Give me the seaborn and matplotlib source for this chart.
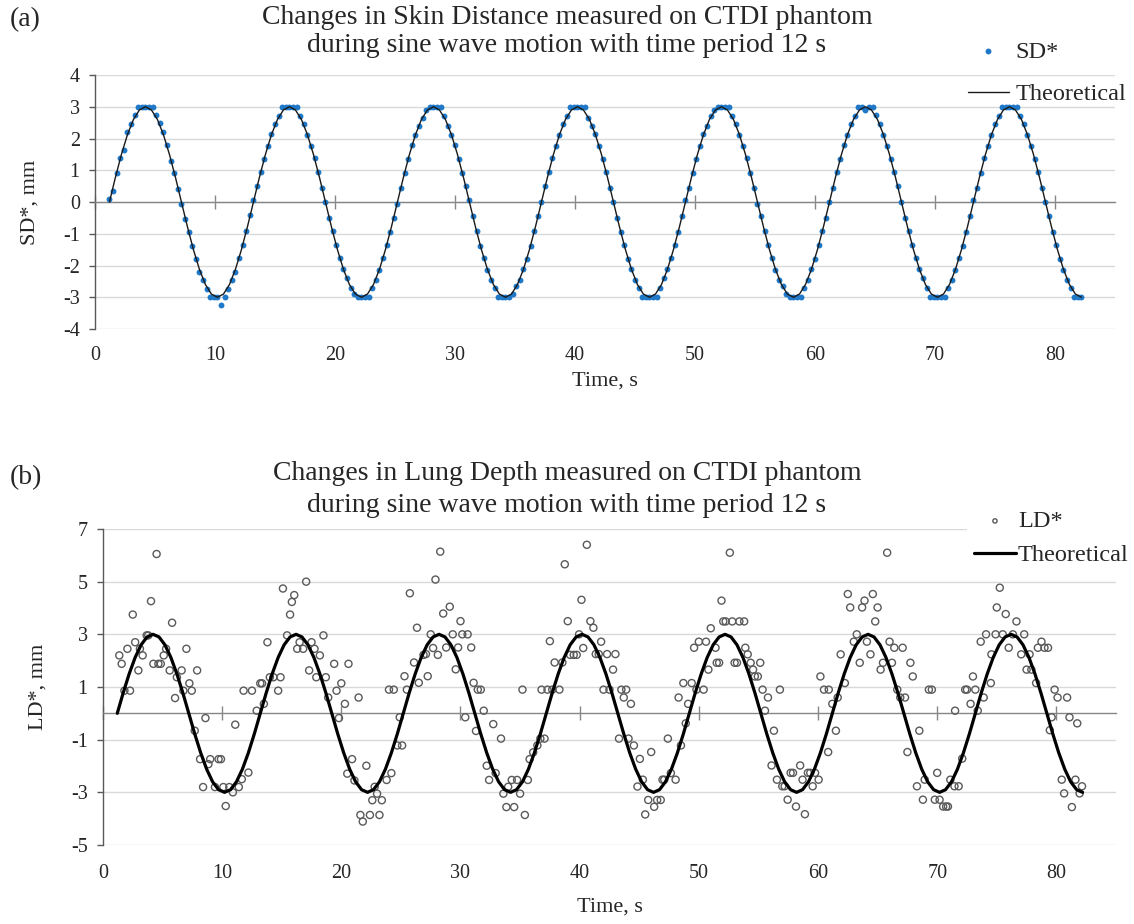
# -*- coding: utf-8 -*-

# Import libraries ======================================================================

import numpy as np
import pandas as pd
import matplotlib
matplotlib.use("Agg")
import matplotlib.pyplot as plt
import seaborn as sns

# Data ==================================================================================

x_ticks = [0, 10, 20, 30, 40, 50, 60, 70, 80]
sd_ticks = [-4, -3, -2, -1, 0, 1, 2, 3, 4]
ld_ticks = [-5, -3, -1, 1, 3, 5, 7]

# Skin distance (SD*), sampled every 0.3 s from 1.2 s
sd_start, sd_step = 1.2, 0.3
sd_mm = [
    0.1, 0.35, 0.9, 1.4, 1.65, 2.2, 2.45, 2.75, 3.0, 3.0,
    3.0, 3.0, 3.0, 2.75, 2.5, 2.2, 1.8, 1.3, 0.9, 0.4,
    -0.05, -0.55, -0.95, -1.4, -1.8, -2.2, -2.45, -2.75, -3.0, -3.0,
    -3.0, -3.25, -3.0, -2.75, -2.45, -2.2, -1.75, -1.35, -0.9, -0.4,
    0.05, 0.5, 0.95, 1.35, 1.75, 2.15, 2.45, 2.7, 3.0, 3.0,
    3.0, 3.0, 3.0, 2.7, 2.45, 2.1, 1.75, 1.4, 0.95, 0.45,
    0.0, -0.5, -0.9, -1.35, -1.75, -2.1, -2.4, -2.7, -2.9, -3.0,
    -3.0, -3.0, -3.0, -2.7, -2.45, -2.15, -1.75, -1.35, -0.95, -0.5,
    -0.05, 0.45, 0.9, 1.35, 1.8, 2.1, 2.4, 2.65, 2.9, 3.0,
    3.0, 3.0, 3.0, 2.7, 2.4, 2.1, 1.8, 1.35, 0.9, 0.5,
    0.05, -0.45, -0.9, -1.4, -1.75, -2.15, -2.45, -2.7, -3.0, -3.0,
    -3.0, -3.0, -2.9, -2.65, -2.45, -2.1, -1.8, -1.4, -0.9, -0.45,
    0.0, 0.5, 0.95, 1.4, 1.75, 2.1, 2.45, 2.7, 3.0, 3.0,
    3.0, 3.0, 3.0, 2.65, 2.4, 2.15, 1.75, 1.35, 0.95, 0.45,
    0.0, -0.5, -0.95, -1.35, -1.8, -2.1, -2.45, -2.7, -3.0, -3.0,
    -3.0, -3.0, -3.0, -2.7, -2.4, -2.1, -1.75, -1.35, -0.95, -0.45,
    0.05, 0.45, 0.9, 1.35, 1.75, 2.15, 2.4, 2.7, 2.9, 3.0,
    3.0, 3.0, 3.0, 2.7, 2.45, 2.1, 1.75, 1.4, 0.9, 0.45,
    -0.05, -0.45, -0.9, -1.35, -1.75, -2.15, -2.45, -2.65, -2.9, -3.0,
    -3.0, -3.0, -3.0, -2.7, -2.45, -2.1, -1.8, -1.35, -0.9, -0.5,
    0.0, 0.45, 0.95, 1.35, 1.8, 2.1, 2.45, 2.7, 3.0, 3.0,
    2.9, 3.0, 3.0, 2.75, 2.45, 2.1, 1.75, 1.35, 0.95, 0.5,
    0.0, -0.5, -0.9, -1.35, -1.75, -2.1, -2.4, -2.7, -3.0, -3.0,
    -3.0, -3.0, -3.0, -2.7, -2.45, -2.15, -1.75, -1.4, -0.95, -0.45,
    0.05, 0.45, 0.9, 1.4, 1.75, 2.1, 2.45, 2.7, 3.0, 3.0,
    3.0, 3.0, 3.0, 2.7, 2.45, 2.1, 1.75, 1.35, 0.95, 0.45,
    0.0, -0.45, -0.95, -1.35, -1.8, -2.15, -2.45, -2.7, -3.0, -3.0,
    -3.0,
]

# Theoretical motion, every 0.5 s from 1.2 s
th_start, th_step = 1.2, 0.5
theory_mm = [
    0.0, 0.78, 1.5, 2.12, 2.6, 2.9, 3.0, 2.9, 2.6, 2.12, 1.5, 0.78,
    0.0, -0.78, -1.5, -2.12, -2.6, -2.9, -3.0, -2.9, -2.6, -2.12, -1.5, -0.78,
    0.0, 0.78, 1.5, 2.12, 2.6, 2.9, 3.0, 2.9, 2.6, 2.12, 1.5, 0.78,
    0.0, -0.78, -1.5, -2.12, -2.6, -2.9, -3.0, -2.9, -2.6, -2.12, -1.5, -0.78,
    0.0, 0.78, 1.5, 2.12, 2.6, 2.9, 3.0, 2.9, 2.6, 2.12, 1.5, 0.78,
    0.0, -0.78, -1.5, -2.12, -2.6, -2.9, -3.0, -2.9, -2.6, -2.12, -1.5, -0.78,
    0.0, 0.78, 1.5, 2.12, 2.6, 2.9, 3.0, 2.9, 2.6, 2.12, 1.5, 0.78,
    0.0, -0.78, -1.5, -2.12, -2.6, -2.9, -3.0, -2.9, -2.6, -2.12, -1.5, -0.78,
    0.0, 0.78, 1.5, 2.12, 2.6, 2.9, 3.0, 2.9, 2.6, 2.12, 1.5, 0.78,
    0.0, -0.78, -1.5, -2.12, -2.6, -2.9, -3.0, -2.9, -2.6, -2.12, -1.5, -0.78,
    0.0, 0.78, 1.5, 2.12, 2.6, 2.9, 3.0, 2.9, 2.6, 2.12, 1.5, 0.78,
    0.0, -0.78, -1.5, -2.12, -2.6, -2.9, -3.0, -2.9, -2.6, -2.12, -1.5, -0.78,
    0.0, 0.78, 1.5, 2.12, 2.6, 2.9, 3.0, 2.9, 2.6, 2.12, 1.5, 0.78,
    0.0, -0.78, -1.5, -2.12, -2.6, -2.9, -3.0,
]

# Lung depth (LD*) points, time and value
ld_time = [
    1.37, 1.57, 1.8, 2.05, 2.27, 2.5, 2.7, 2.97, 3.1, 3.33,
    3.67, 3.8, 4.03, 4.23, 4.5, 4.65, 4.85, 5.1, 5.3, 5.6,
    5.8, 6.05, 6.2, 6.6, 6.75, 7.0, 7.25, 7.45, 7.7, 7.9,
    8.15, 8.4, 8.6, 8.85, 9.0, 9.4, 9.7, 9.9, 10.1, 10.3,
    10.6, 10.9, 11.1, 11.4, 11.65, 11.8, 12.2, 12.5, 12.9, 13.2,
    13.35, 13.5, 13.8, 14.0, 14.3, 14.7, 14.9, 15.1, 15.45, 15.7,
    15.85, 16.05, 16.3, 16.5, 16.8, 17.05, 17.3, 17.5, 17.75, 17.9,
    18.2, 18.5, 18.7, 18.9, 19.4, 19.6, 19.8, 20.0, 20.3, 20.5,
    20.6,
    20.9, 21.1, 21.45, 21.6, 21.8, 22.1, 22.4, 22.6, 22.8, 23.0,
    23.2, 23.4, 23.8, 24.0, 24.2, 24.4, 24.7, 24.9, 25.1, 25.3,
    25.5, 25.75, 26.1, 26.35, 26.5, 26.9, 27.1, 27.25, 27.5, 27.7,
    27.9, 28.1, 28.3, 28.55, 28.8, 29.1, 29.35, 29.6, 29.8, 30.0,
    30.15, 30.4, 30.6, 30.9, 31.1, 31.3, 31.45, 31.7, 31.95, 32.2,
    32.4, 32.75, 32.95, 33.4, 33.6, 33.85, 34.0, 34.3, 34.5, 34.75,
    35.0, 35.2, 35.4, 35.65, 35.8, 36.1, 36.45, 36.7, 36.8, 37.05,
    37.3, 37.5, 37.7, 37.9, 38.3, 38.55, 38.75, 39.0, 39.2, 39.5,
    39.75, 39.95, 40.15, 40.3, 40.6, 40.9, 41.15, 41.35, 41.6,
    41.8, 42.0, 42.3, 42.5, 42.8, 43.0, 43.3, 43.5, 43.7, 43.9,
    44.1, 44.3, 44.55, 44.85, 45.05, 45.3, 45.5, 45.75, 46.0, 46.25,
    46.5, 46.8, 46.95, 47.1, 47.4, 47.65, 48.05, 48.3, 48.5, 48.7,
    48.9, 49.1, 49.4, 49.6, 49.8, 50.0, 50.4, 50.6, 50.8, 51.0,
    51.4, 51.5, 51.7, 51.9, 52.05, 52.25, 52.6, 52.8, 53.0, 53.2,
    53.4, 53.8, 53.9, 54.1, 54.35, 54.55, 54.7, 54.95, 55.15, 55.35,
    55.55, 55.8, 56.1, 56.3, 56.55, 56.8, 57.0, 57.2, 57.45, 57.7,
    57.9, 58.15, 58.5, 58.7, 58.9, 59.15, 59.35, 59.55, 59.75, 60.05,
    60.2, 60.5, 60.85, 60.9, 61.2, 61.5, 61.65, 61.9, 62.25, 62.5,
    62.7,
    63.0, 63.25, 63.5, 63.7, 63.9, 64.1, 64.4, 64.6, 64.8, 65.0,
    65.25, 65.45, 65.8, 66.0, 66.2, 66.4, 66.65, 66.9, 67.1, 67.3,
    67.5, 67.75, 67.95, 68.3, 68.5, 68.8, 68.95, 69.3, 69.55, 69.8,
    70.0, 70.2, 70.5, 70.75, 70.9, 71.1, 71.45, 71.5, 71.8, 72.1,
    72.35, 72.5, 72.8, 73.0, 73.2, 73.4, 73.65, 73.9, 74.1, 74.5,
    74.55, 74.9, 75.0, 75.25, 75.5, 75.75, 76.0, 76.35, 76.65, 77.05,
    77.3, 77.5, 77.75, 77.9, 78.3, 78.45, 78.75, 79.0, 79.3, 79.45,
    79.6, 79.85, 80.1, 80.45, 80.65, 80.9, 81.1, 81.3, 81.6, 81.75,
    81.95, 82.15,
]
ld_mm = [
    2.2, 1.88, 0.86, 2.45, 0.86, 3.75, 2.7, 1.63, 2.45, 2.2,
    2.96, 2.96, 4.26, 1.88, 6.05, 1.88, 1.88, 2.2, 2.45, 1.63,
    3.44, 0.58, 1.37, 1.63, 0.86, 2.45, 1.14, 0.86, -0.66, 1.63,
    -1.74, -2.8, -0.18, -1.93, -1.74, -2.8, -1.74, -1.74, -2.8, -3.52,
    -2.8, -3.0, -0.43, -2.8, -2.5, 0.86, -2.25, 0.86, 0.1, 1.14,
    1.14, 0.36, 2.7, 1.37, 1.37, 0.86, 1.37, 4.74, 2.96, 3.75,
    4.23, 4.49, 2.45, 2.7, 2.45, 5.0, 1.63, 2.7, 2.45, 1.37,
    2.2, 2.96, 1.37, 0.6, 1.88, 0.86, -0.18, 1.14, 0.36, -2.29,
    1.88,
    -1.74, -2.55, 0.6, -3.86, -4.11, -1.99, -3.86, -3.3, -2.79, -3.05,
    -3.86, -3.3, -2.53, 0.9, -2.27, 0.9, -1.22, -0.15, -1.22, 1.41,
    0.9, 4.56, 1.93, 3.25, 1.16, 2.22, 2.25, 1.41, 3.0, 2.48,
    5.08, 2.22, 6.14, 3.79, 2.5, 4.05, 3.0, 1.67, 2.5, 3.5,
    3.0, -0.15, 3.0, 2.5, 1.16, -0.67, 0.9, 0.9, 0.1, -1.99,
    -2.53, -0.41, -2.27, -0.96, -3.05, -3.56, -2.79, -2.53, -3.56, -2.53,
    -3.05, 0.9, -3.86, -2.53, -1.74, -1.48, -1.22, -0.96, 0.9, -0.96,
    0.9, 2.74, 0.9, 1.93, 0.9, 1.93, 5.66, 3.5, 2.22, 2.22,
    2.22, 3.0, 4.31, 2.48, 6.4, 3.5, 3.25, 2.25, 2.25,
    2.72, 0.9, 2.25, 0.9, 1.66, 2.25, -0.96, 0.9, 0.6, 0.9,
    -0.96, 0.36, -1.22, -2.78, -1.73, -2.52, -3.84, -3.29, -1.47, -3.55,
    -3.29, -3.29, -2.52, -2.52, -0.96, -2.27, -2.52, 0.6, -1.22, 1.15,
    -0.38, 0.36, 1.15, 2.49, 0.9, 2.72, 0.9, 2.72, 1.66, 3.23,
    2.49, 1.92, 1.92, 4.28, 3.49, 3.49, 6.1, 3.49, 1.92, 1.92,
    3.49, 3.49, 2.49, 2.24, 1.92, 1.66, 1.4, 1.4, 1.92, 0.9,
    0.1, 0.6, -1.98, -0.66, -2.52, 0.9, -2.77, -2.77, -3.28, -2.26,
    -2.26, -3.54, -1.98, -2.52, -3.83, -2.26, -2.26, -2.77, -2.26, -2.52,
    1.4, 0.9, -1.47, 0.9, 0.36, -0.66, 0.6, 2.24, 1.15, 4.53,
    4.02,
    2.72, 3.0, 1.92, 4.02, 4.28, 2.72, 2.24, 4.53, 3.49, 4.02,
    1.66, 1.92, 6.1, 2.72, 1.92, 2.49, 0.9, 0.6, 2.49, 0.6,
    -1.47, 1.92, 1.4, -2.77, -0.66, -3.28, -2.52, 0.9, 0.9, -3.28,
    -2.26, -3.28, -3.54, -3.54, -3.54, -2.52, -2.77, 0.1, -2.77, -1.72,
    0.9, 0.9, 0.36, 1.4, 0.9, 0.1, 2.72, 0.6, 3.0, 1.15,
    2.24, 3.0, 4.02, 4.77, 3.0, 3.77, 2.49, 3.0, 3.49, 2.24,
    3.0, 1.66, 2.24, 1.66, 1.15, 2.49, 2.72, 2.49, 2.49, -0.64,
    -0.15, 0.9, 0.6, -2.52, -3.04, 0.6, -0.15, -3.56, -2.52, -0.38,
    -3.04, -2.77,
]

# Build the tables ======================================================================

sd_df = pd.DataFrame({"Time": sd_start + sd_step * np.arange(len(sd_mm)), "SD": sd_mm})
th_df = pd.DataFrame({"Time": th_start + th_step * np.arange(len(theory_mm)), "TH": theory_mm})
ld_df = pd.DataFrame({"Time": ld_time, "LD": ld_mm})

# Style ================================================================================

sns.set_theme(style="white")
plt.rcParams["font.family"] = ["Liberation Serif", "DejaVu Serif"]
plt.rcParams["axes.unicode_minus"] = False


def style_axes(ax, yticks, ylabel, ylabelpad, xpad, xlabelpad):
    ''' Excel look: light grid, x axis crossing at zero, tick labels at the bottom. '''
    ax.set_xlim(0, 85)
    ax.set_ylim(yticks[0], yticks[-1])
    ax.set_xticks(x_ticks)
    ax.set_yticks(yticks)
    ax.grid(axis="y", color="#D9D9D9", lw=1)
    ax.grid(axis="x", visible=False)
    ax.set_axisbelow(True)
    ax.spines["top"].set_visible(False)
    ax.spines["right"].set_visible(False)
    ax.spines["left"].set_color("#595959")
    ax.spines["left"].set_linewidth(1)
    ax.spines["bottom"].set_position(("data", 0))
    ax.spines["bottom"].set_color("#868686")
    ax.spines["bottom"].set_linewidth(1)
    ax.tick_params(axis="x", direction="inout", length=10, width=1,
                   color="#868686", labelbottom=False, bottom=True)
    ax.tick_params(axis="y", direction="out", length=4, width=1,
                   color="#595959", labelsize=14.5, pad=7, left=True)
    ax.set_ylabel(ylabel, fontsize=16, labelpad=ylabelpad)
    ax.set_xlabel("")

    sec = ax.secondary_xaxis(0)
    sec.set_xticks(x_ticks)
    sec.tick_params(length=0, labelsize=14.5, pad=xpad)
    for sp in sec.spines.values():
        sp.set_visible(False)
    sec.set_xlabel("Time, s", fontsize=16, labelpad=xlabelpad)


fig = plt.figure(figsize=(11.34, 9.24), dpi=100)

# Panel (a) ==============================================================================

ax1 = fig.add_axes([0.0838, 0.6439, 0.8995, 0.2749])
sns.scatterplot(data=sd_df, x="Time", y="SD", ax=ax1, color="#1F78C8",
                s=18, linewidth=0, label="SD*", zorder=3)
sns.lineplot(data=th_df, x="Time", y="TH", ax=ax1, color="#1a1a1a",
             lw=1.0, label="Theoretical", zorder=4)
style_axes(ax1, sd_ticks, "SD*, mm", ylabelpad=17, xpad=12, xlabelpad=5)
ax1.legend(loc="upper left", bbox_to_anchor=(958 / 1134, 1 - 31 / 924),
           bbox_transform=fig.transFigure, frameon=False, fontsize=17.5,
           handlelength=1.7, handletextpad=0.25, labelspacing=0.85, borderaxespad=0)

fig.text(0.5, 1 - 18 / 924, "Changes in Skin Distance measured on CTDI phantom",
         ha="center", va="center", fontsize=20)
fig.text(0.5, 1 - 45 / 924, "during sine wave motion with time period 12 s",
         ha="center", va="center", fontsize=20)
fig.text(10 / 1134, 1 - 20 / 924, "(a)", ha="left", va="center", fontsize=20)

# Panel (b) ==============================================================================

ax2 = fig.add_axes([0.0908, 0.0855, 0.8933, 0.3420])
sns.scatterplot(data=ld_df, x="Time", y="LD", ax=ax2, facecolor="none",
                edgecolor="#5a5a5a", s=26, linewidth=1.0, label="LD*", zorder=3)
sns.lineplot(data=th_df, x="Time", y="TH", ax=ax2, color="black",
             lw=2.3, label="Theoretical", zorder=4)
style_axes(ax2, ld_ticks, "LD*, mm", ylabelpad=17, xpad=14, xlabelpad=10)
leg = ax2.legend(loc="upper left", bbox_to_anchor=(967 / 1134, 1 - 503 / 924),
                 bbox_transform=fig.transFigure, frameon=True, facecolor="white",
                 edgecolor="none", framealpha=1, fontsize=17.5, markerscale=0.6,
                 handlelength=1.7, handletextpad=0.1, labelspacing=0.5,
                 borderaxespad=0, borderpad=0.3)

fig.text(0.5, 1 - 474 / 924, "Changes in Lung Depth measured on CTDI phantom",
         ha="center", va="center", fontsize=20)
fig.text(0.5, 1 - 506 / 924, "during sine wave motion with time period 12 s",
         ha="center", va="center", fontsize=20)
fig.text(10 / 1134, 1 - 478 / 924, "(b)", ha="left", va="center", fontsize=20)

# Save our plot
plt.savefig("out.png", dpi=100)
